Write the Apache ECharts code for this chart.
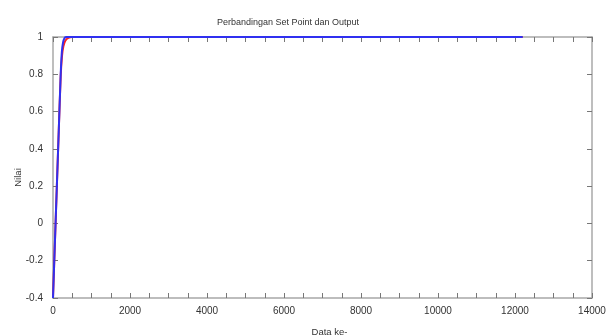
<!DOCTYPE html>
<html>
<head>
<meta charset="utf-8">
<script src="https://cdn.jsdelivr.net/npm/echarts@6/dist/echarts.min.js"></script>
<style>
  html, body { margin: 0; padding: 0; background: #fff; }
  #chart { width: 614px; height: 336px; }
</style>
</head>
<body>
<div id="chart"></div>
<script>
// set point (red) and output (blue), [data index, value]
var setPoint = [
  [0, -0.4], [50, -0.1], [100, 0.2], [150, 0.5], [200, 0.79], [235, 0.9],
  [270, 0.95], [320, 0.98], [400, 0.995], [500, 1], [12200, 1]
];
var output = [
  [0, -0.4], [50, -0.1], [100, 0.2], [150, 0.5], [200, 0.8], [230, 0.92],
  [260, 0.97], [300, 0.995], [350, 1], [12200, 1]
];
var xLabels = [0, 2000, 4000, 6000, 8000, 10000, 12000, 14000];

var chart = echarts.init(document.getElementById('chart'));
var axisCol = '#a8a8a8';
var textCol = '#333';
var font = 'Liberation Sans';

function xAx(pos, showLabel) {
  return {
    type: 'value',
    position: pos,
    min: 0,
    max: 14000,
    interval: 500,
    axisLine: { show: true, onZero: false, lineStyle: { color: axisCol, width: 1.5 } },
    axisTick: { show: true, inside: true, length: 5, lineStyle: { color: '#777' } },
    splitLine: { show: false },
    axisLabel: {
      show: showLabel,
      margin: 8,
      color: textCol,
      fontFamily: font,
      fontSize: 10,
      formatter: function (v) {
        return xLabels.indexOf(v) >= 0 ? String(v) : '';
      }
    }
  };
}
function yAx(pos, showLabel) {
  return {
    type: 'value',
    position: pos,
    min: -0.4,
    max: 1,
    interval: 0.2,
    axisLine: { show: true, onZero: false, lineStyle: { color: axisCol, width: 1.5 } },
    axisTick: { show: true, inside: true, length: 5, lineStyle: { color: '#777' } },
    splitLine: { show: false },
    axisLabel: {
      show: showLabel,
      margin: 10,
      color: textCol,
      fontFamily: font,
      fontSize: 10,
      formatter: function (v) {
        return String(Math.round(v * 10) / 10);
      }
    }
  };
}

var xBottom = xAx('bottom', true);
xBottom.name = 'Data ke-';
xBottom.nameLocation = 'middle';
xBottom.nameGap = 29;
xBottom.nameMoveOverlap = false;
xBottom.nameTextStyle = { color: textCol, fontFamily: font, fontSize: 9.5, padding: [0, 0, 0, 14] };
var xTop = xAx('top', false);

var yLeft = yAx('left', true);
yLeft.name = 'Nilai';
yLeft.nameLocation = 'middle';
yLeft.nameGap = 30;
yLeft.nameMoveOverlap = false;
yLeft.nameTextStyle = { color: textCol, fontFamily: font, fontSize: 9.5, padding: [0, 20, 0, 0] };
var yRight = yAx('right', false);

chart.setOption({
  animation: false,
  title: {
    text: 'Perbandingan Set Point dan Output',
    left: 212,
    top: 13,
    textStyle: { color: textCol, fontFamily: font, fontSize: 9, fontWeight: 'normal' }
  },
  grid: { left: 53, right: 22, top: 37, bottom: 38, outerBoundsMode: 'none' },
  xAxis: [xBottom, xTop],
  yAxis: [yLeft, yRight],
  series: [
    {
      name: 'Set Point',
      type: 'line',
      data: setPoint,
      xAxisIndex: 0,
      yAxisIndex: 0,
      showSymbol: false,
      smooth: 0.3,
      lineStyle: { color: '#ff2020', width: 2 },
      z: 2
    },
    {
      name: 'Output',
      type: 'line',
      data: output,
      xAxisIndex: 0,
      yAxisIndex: 0,
      showSymbol: false,
      smooth: 0.3,
      lineStyle: { color: '#3030f0', width: 2 },
      z: 3
    }
  ]
});
</script>
</body>
</html>
